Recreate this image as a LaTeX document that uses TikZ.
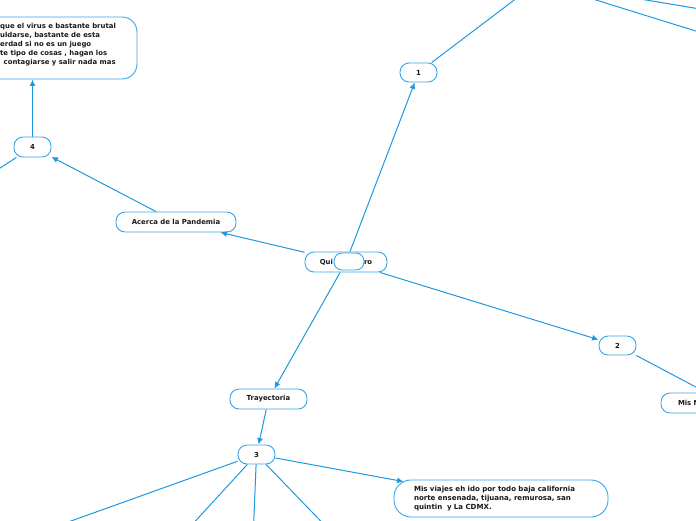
\documentclass[tikz,border=0pt]{standalone}
\usepackage{fontspec}
\setmainfont{DejaVu Sans}
\usetikzlibrary{arrows.meta}
\definecolor{edgeblue}{RGB}{32,152,222}
\definecolor{boxblue}{RGB}{55,165,232}
\definecolor{txt}{RGB}{25,25,25}
\tikzset{
  mm/.style={draw=boxblue, line width=0.9pt, fill=white, rounded corners=9pt, inner sep=0pt,
    font=\fontsize{6.9}{9}\selectfont\bfseries, text=txt},
  plaintext/.style={inner sep=0pt, font=\fontsize{6.9}{9}\selectfont\bfseries, text=txt},
  link/.style={draw=edgeblue, line width=1pt},
  arr/.style={link, -{Latex[length=6.5pt,width=6pt]}},
}
\begin{document}
\begin{tikzpicture}[x=1pt,y=-1pt]
\useasboundingbox (0,0) rectangle (696,520);
\clip (0,0) rectangle (696,520);

% nodes
\node[mm, minimum width=82pt, minimum height=20pt] (c) at (346,262) {Qui\hspace{31pt}ro};
\node[mm, minimum width=30pt, minimum height=17pt, rounded corners=8pt] (e) at (349,261.5) {};
\node[mm, minimum width=37pt, minimum height=19pt] (n1) at (418.5,72.5) {1};
\node[mm, minimum width=37pt, minimum height=19pt] (n2) at (617.5,345.5) {2};
\node[mm, minimum width=37pt, minimum height=19pt] (n3) at (256.5,454.5) {3};
\node[mm, minimum width=37pt, minimum height=20pt] (n4) at (32.5,147) {4};
\node[mm, minimum width=120pt, minimum height=20pt] (acerca) at (176,222) {Acerca de la Pandemia};
\node[mm, minimum width=77pt, minimum height=20pt] (tray) at (268.5,399) {Trayectoria};
\node[mm, minimum width=130pt, minimum height=20pt, text width=96pt, align=left] (misn) at (726,403) {Mis N};
\node[mm, minimum width=337pt, minimum height=62pt, rounded corners=15pt] (pand) at (-31.5,48) {};
\node[plaintext, align=left, anchor=north west] (pandtext) at (0,23.3)
  {que el virus e bastante brutal\\
   uldarse, bastante de esta\\
   erdad si no es un juego\\
   te tipo de cosas , hagan los\\
   \hspace*{3.5pt}contagiarse y salir nada mas};
\node[mm, minimum width=214pt, minimum height=37pt, rounded corners=17pt, text width=174pt, align=left,
      font=\fontsize{7.05}{9}\selectfont\bfseries] (viajes) at (501,498.5)
  {\mbox{Mis viajes eh ido por todo baja california}\\
   \mbox{norte ensenada, tijuana, remurosa, san}\\
   \mbox{quintin~ y La CDMX.}};

% off-canvas ends
\coordinate (x) at (538,-18);
\coordinate (xa) at (760,51);
\coordinate (xb) at (760,19);
\coordinate (l4) at (-40,194);
\coordinate (b1) at (18,540);
\coordinate (b2) at (178,540);
\coordinate (b3) at (253,540);
\coordinate (b4) at (339,540);

% connectors
\draw[arr] (c) -- (n1);
\draw[link] (n1) -- (x);
\draw[link] (x) -- (xa);
\draw[link] (x) -- (xb);
\draw[arr] (c) -- (acerca);
\draw[arr] (acerca) -- (n4);
\draw[arr] (n4) -- (n4 |- pand.south);
\draw[link] (n4) -- (l4);
\draw[arr] (c) -- (n2);
\draw[link] (n2) -- (misn);
\draw[arr] (c) -- (tray);
\draw[arr] (tray) -- (n3);
\draw[arr] (n3) -- ([xshift=10pt,yshift=-2pt]viajes.north west);
\draw[link] (n3) -- (b1);
\draw[link] (n3) -- (b2);
\draw[link] (n3) -- (b3);
\draw[link] (n3) -- (b4);
\end{tikzpicture}
\end{document}
